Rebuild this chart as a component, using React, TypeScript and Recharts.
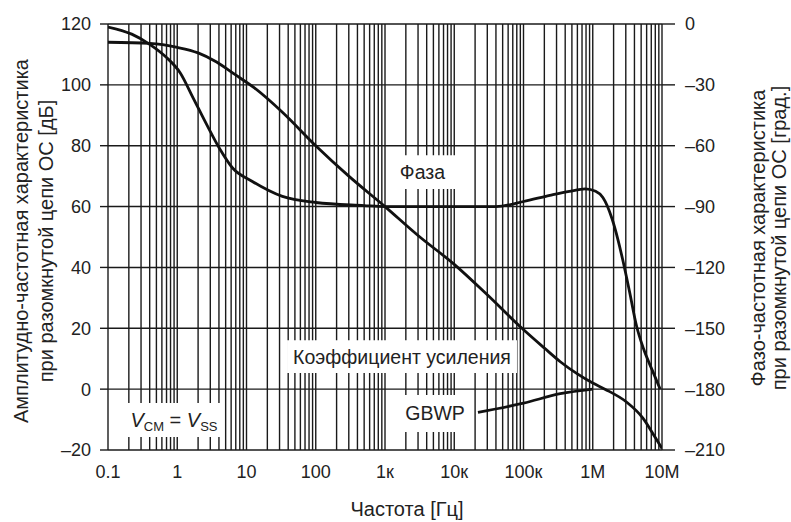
import React from "react";
import {
  CartesianGrid,
  Customized,
  Line,
  LineChart,
  ReferenceArea,
  XAxis,
  YAxis,
} from "recharts";

// частоты декад и подписи оси X
const decadeFreqs = [0.1, 1, 10, 100, 1000, 10000, 100000, 1000000, 10000000];
const decadeLabels = ["0.1", "1", "10", "100", "1к", "10к", "100к", "1M", "10M"];
const minorSteps = [2, 3, 4, 5, 6, 7, 8, 9];

const dbTicks = [-20, 0, 20, 40, 60, 80, 100, 120];
const phaseTicks = [-210, -180, -150, -120, -90, -60, -30, 0];

// коэффициент усиления, дБ
const gainFreq = [
  0.1, 0.4, 1, 2, 3.7, 6.7, 13, 33, 100, 300, 1000, 3000, 10000, 30000,
  95000, 200000, 340000, 600000, 1e6, 1.5e6, 3.1e6, 5.3e6, 8e6, 1e7,
];
const gainDb = [
  114, 113.6, 112.3, 110.5, 107.5, 103.5, 99, 91, 80, 70, 60, 50.5, 41, 31,
  20, 13.5, 9, 5, 2, 0, -4.3, -9.5, -15.9, -19.5,
];

// фаза, град.
const phaseFreq = [
  0.1, 0.22, 0.4, 0.7, 1.1, 1.7, 2.7, 4.1, 6.3, 12, 33, 100, 500, 1000, 10000,
  40000, 100000, 240000, 460000, 780000, 1.1e6, 1.4e6, 1.9e6, 2.3e6, 2.7e6,
  3.4e6, 4.3e6, 5.4e6, 7.3e6, 9.4e6,
];
const phaseDeg = [
  -1.5, -5, -10, -16.5, -24, -36.5, -50, -61.5, -71, -77.5, -85, -88, -89.5,
  -90, -90, -90, -87.5, -84.5, -82.5, -81.3, -82.5, -85.5, -96, -106, -116,
  -132, -149, -160, -171, -180,
];

// выноска GBWP
const gbwpFreq = [22000, 100000, 340000, 1e6];
const gbwpDb = [-7.6, -4.6, -1.5, 0];

const gridFreqs = [
  ...decadeFreqs,
  ...decadeFreqs.slice(0, -1).flatMap((d) => minorSteps.map((m) => d * m)),
].sort((a, b) => a - b);

const zip = (fs: number[], vs: number[]) => fs.map((f, i) => ({ f, v: vs[i] }));
const gainData = zip(gainFreq, gainDb);
const phaseData = zip(phaseFreq, phaseDeg);
const gbwpData = zip(gbwpFreq, gbwpDb);

const FONT = "'Liberation Sans', Arial, sans-serif";
const INK = "#222";
const GRID = "#1a1a1a";

const fmt = (v: number) => (v < 0 ? `–${Math.abs(v)}` : String(v));

function XTick(props: any) {
  const { x, y, payload } = props;
  const i = decadeFreqs.indexOf(payload.value);
  if (i < 0) return <g />;
  return (
    <text x={x} y={y + 28} textAnchor="middle" fontSize={18} fontFamily={FONT} fill={INK}>
      {decadeLabels[i]}
    </text>
  );
}

function VcmLabel(props: any) {
  const { x, y, width, height } = props.viewBox;
  return (
    <text
      x={x + width / 2}
      y={y + height / 2 + 7}
      textAnchor="middle"
      fontSize={20}
      fontFamily={FONT}
      fill={INK}
    >
      <tspan fontStyle="italic">V</tspan>
      <tspan fontSize={13} dy={4}>CM</tspan>
      <tspan dy={-4}> = </tspan>
      <tspan fontStyle="italic">V</tspan>
      <tspan fontSize={13} dy={4}>SS</tspan>
    </text>
  );
}

function AxisTitles() {
  const t = { fontSize: 20, fontFamily: FONT, fill: INK, textAnchor: "middle" as const, dominantBaseline: "central" as const };
  return (
    <g>
      <text {...t} x={21} y={241} transform="rotate(-90 21 241)">
        Амплитудно-частотная характеристика
      </text>
      <text {...t} x={46} y={241} transform="rotate(-90 46 241)">
        при разомкнутой цепи ОС [дБ]
      </text>
      <text {...t} x={758} y={238} transform="rotate(-90 758 238)">
        Фазо-частотная характеристика
      </text>
      <text {...t} x={779} y={238} transform="rotate(-90 779 238)">
        при разомкнутой цепи ОС [град.]
      </text>
      <text {...t} x={407} y={509}>
        Частота [Гц]
      </text>
    </g>
  );
}

const boxText = { position: "center" as const, fontSize: 19.5, fontFamily: FONT, fill: INK };

export default function App() {
  return (
    <div style={{ width: 791, height: 522 }}>
      <style>{"body{margin:0}"}</style>
      <LineChart
        width={791}
        height={522}
        margin={{ top: 24, right: 69, bottom: 32, left: 48 }}
      >
        <CartesianGrid stroke={GRID} strokeWidth={1.4} yAxisId="left" />
        <XAxis
          type="number"
          dataKey="f"
          scale="log"
          domain={[0.1, 1e7]}
          ticks={gridFreqs}
          interval={0}
          allowDataOverflow
          axisLine={false}
          tickLine={false}
          tickSize={0}
          tickMargin={0}
          height={40}
          tick={<XTick />}
        />
        <YAxis
          yAxisId="left"
          domain={[-20, 120]}
          ticks={dbTicks}
          width={60}
          axisLine={false}
          tickLine={{ stroke: GRID, strokeWidth: 1.4 }}
          tickSize={8}
          tickMargin={9}
          tickFormatter={fmt}
          tick={{ fontSize: 18, fontFamily: FONT, fill: INK }}
        />
        <YAxis
          yAxisId="right"
          orientation="right"
          domain={[-210, 0]}
          ticks={phaseTicks}
          width={60}
          axisLine={false}
          tickLine={{ stroke: GRID, strokeWidth: 1.4 }}
          tickSize={13}
          tickMargin={10}
          tickFormatter={fmt}
          tick={{ fontSize: 18, fontFamily: FONT, fill: INK, textAnchor: "start" }}
        />
        <ReferenceArea yAxisId="left" x1={1070} x2={11300} y1={65.8} y2={76.9} fill="#fff" fillOpacity={1} stroke="none" label={{ value: "Фаза", ...boxText }} />
        <ReferenceArea yAxisId="left" x1={38.5} x2={80500} y1={5.3} y2={16.1} fill="#fff" fillOpacity={1} stroke="none" label={{ value: "Коэффициент усиления", ...boxText }} />
        <ReferenceArea yAxisId="left" x1={1650} x2={16900} y1={-14.1} y2={-1.9} fill="#fff" fillOpacity={1} stroke="none" label={{ value: "GBWP", ...boxText }} />
        <ReferenceArea yAxisId="left" x1={0.176} x2={4.58} y1={-15.7} y2={-4.55} fill="#fff" fillOpacity={1} stroke="none" label={<VcmLabel />} />
        <Line yAxisId="left" data={gainData} dataKey="v" type="monotone" stroke="#111" strokeWidth={2.8} dot={false} isAnimationActive={false} />
        <Line yAxisId="right" data={phaseData} dataKey="v" type="monotone" stroke="#111" strokeWidth={2.8} dot={false} isAnimationActive={false} />
        <Line yAxisId="left" data={gbwpData} dataKey="v" type="monotone" stroke="#111" strokeWidth={2.8} dot={false} isAnimationActive={false} />
        <Customized component={AxisTitles} />
      </LineChart>
    </div>
  );
}
